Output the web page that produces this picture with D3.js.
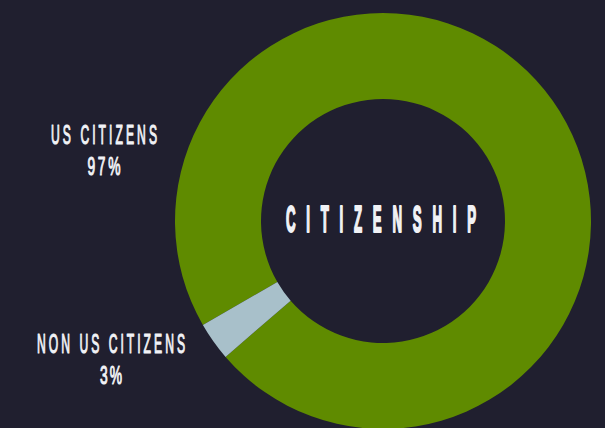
<!DOCTYPE html>
<html>
<head>
<meta charset="utf-8">
<script src="https://cdn.jsdelivr.net/npm/d3@7"></script>
<style>
  html, body { margin: 0; padding: 0; background: #201f2f; }
  svg { display: block; }
</style>
</head>
<body>
<svg id="chart" width="605" height="428"></svg>
<script>
// ---- data ----
const categories = ["US CITIZENS", "NON US CITIZENS"];
const values = [97, 3];
const valueLabels = ["97%", "3%"];
const title = "CITIZENSHIP";

// ---- styles ----
const W = 605, H = 428;
const bg = "#201f2f";
const colors = d3.scaleOrdinal().domain(categories).range(["#5f8b00", "#a8c0ca"]);
const textColor = "#f1f2f6";
const fontFamily = "'Liberation Sans', Arial, sans-serif";

const svg = d3.select("#chart");
svg.append("rect").attr("width", W).attr("height", H).attr("fill", bg);

const cx = 383, cy = 221, rOuter = 208, rInner = 122;
const a0 = 240 * Math.PI / 180;

const pie = d3.pie().sort(null).startAngle(a0).endAngle(a0 + 2 * Math.PI);
const arc = d3.arc().innerRadius(rInner).outerRadius(rOuter);
const data = categories.map((c, i) => ({ cat: c, value: values[i] }));

const g = svg.append("g").attr("transform", `translate(${cx},${cy})`);
g.selectAll("path")
  .data(pie.value(d => d.value)(data))
  .join("path")
  .attr("d", arc)
  .attr("fill", d => colors(d.data.cat));

// condensed text helper: fits text to a measured cap height and width
function condensedText(str, centerX, baseline, capH, width, k, strokeW, weight) {
  const fs = (capH - strokeW) / 0.688;
  const t = svg.append("text")
    .attr("font-family", fontFamily)
    .attr("font-weight", weight)
    .attr("font-size", fs)
    .attr("fill", textColor)
    .attr("stroke", textColor)
    .attr("stroke-width", strokeW)
    .attr("vector-effect", "non-scaling-stroke")
    .attr("stroke-linejoin", "round")
    .text(str);
  const W0 = t.node().getComputedTextLength();
  const n = str.length;
  const ls = n > 1 ? (width / k - W0) / (n - 1) : 0;
  t.attr("letter-spacing", ls);
  const visual = k * (W0 + (n - 1) * ls);
  t.attr("transform", `translate(${centerX - visual / 2},${baseline - strokeW / 2}) scale(${k},1)`);
  return t;
}

// labels
condensedText(categories[0], 104, 144, 19.5, 106, 0.45, 0.9, 400);
condensedText(valueLabels[0], 104, 175, 18.5, 33, 0.54, 0.9, 400);
condensedText(categories[1], 111, 353, 19.5, 148, 0.45, 0.9, 400);
condensedText(valueLabels[1], 111, 384, 18.5, 22, 0.54, 0.9, 400);
condensedText(title, 381, 233, 27, 190, 0.36, 1.6, 700);
</script>
</body>
</html>
